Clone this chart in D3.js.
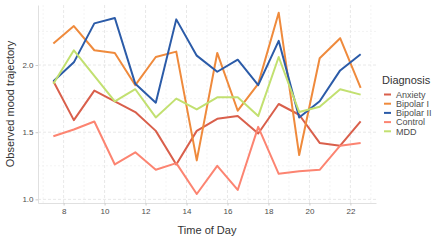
<!DOCTYPE html>
<html>
<head>
<meta charset="utf-8">
<script src="https://cdn.jsdelivr.net/npm/d3@7"></script>
<style>
  body { margin: 0; background: #fff; }
  text { font-family: "Liberation Sans", Arial, sans-serif; }
</style>
</head>
<body>
<svg id="chart"></svg>
<script>
const width = 436;
const height = 242;

const hours = [7.5, 8.5, 9.5, 10.5, 11.5, 12.5, 13.5, 14.5, 15.5, 16.5, 17.5, 18.5, 19.5, 20.5, 21.5, 22.5];
const diagnoses = ['Anxiety', 'Bipolar I', 'Bipolar II', 'Control', 'MDD'];
const colors = ['#d95f4b', '#ef8a3c', '#2b5ba8', '#fc8471', '#c2e070'];

const anxiety   = [1.88, 1.59, 1.81, 1.73, 1.65, 1.51, 1.26, 1.51, 1.60, 1.62, 1.49, 1.71, 1.63, 1.42, 1.40, 1.58];
const bipolar1  = [2.16, 2.29, 2.11, 2.09, 1.85, 2.06, 2.10, 1.29, 2.09, 1.66, 1.86, 2.39, 1.33, 2.05, 2.20, 1.83];
const bipolar2  = [1.88, 2.02, 2.31, 2.35, 1.86, 1.72, 2.34, 2.07, 1.95, 2.04, 1.85, 2.18, 1.61, 1.73, 1.96, 2.08];
const control   = [1.47, 1.52, 1.58, 1.26, 1.35, 1.22, 1.27, 1.04, 1.25, 1.07, 1.54, 1.19, 1.21, 1.22, 1.40, 1.42];
const mdd       = [1.86, 2.11, 1.92, 1.73, 1.82, 1.61, 1.75, 1.67, 1.76, 1.76, 1.62, 2.06, 1.65, 1.69, 1.82, 1.78];

const xTicks = [8, 10, 12, 14, 16, 18, 20, 22];
const yTicks = [1.0, 1.5, 2.0];

const series = [anxiety, bipolar1, bipolar2, control, mdd].map((vals, i) => ({
    name: diagnoses[i],
    color: colors[i],
    values: vals.map((v, j) => ({hour: hours[j], value: v}))
}));

const margin = {left: 38, right: 60, top: 5, bottom: 39};

const svg = d3.select('#chart')
    .attr('width', width)
    .attr('height', height);

const x = d3.scaleLinear().domain([6.75, 23.25]).range([margin.left, width - margin.right]);
const y = d3.scaleLinear().domain([0.973, 2.447]).range([height - margin.bottom, margin.top]);

// grid
const grid = svg.append('g');
const xMinor = d3.range(7, 24, 2);
const yMinor = [1.25, 1.75, 2.25];
grid.selectAll('.xminor').data(xMinor).enter().append('line')
    .attr('x1', d => x(d)).attr('x2', d => x(d))
    .attr('y1', y.range()[0]).attr('y2', y.range()[1])
    .attr('stroke', '#ececec').attr('stroke-width', 0.6).attr('stroke-dasharray', '2,2');
grid.selectAll('.yminor').data(yMinor).enter().append('line')
    .attr('x1', x.range()[0]).attr('x2', x.range()[1])
    .attr('y1', d => y(d)).attr('y2', d => y(d))
    .attr('stroke', '#ececec').attr('stroke-width', 0.6).attr('stroke-dasharray', '2,2');
grid.selectAll('.xmajor').data(xTicks).enter().append('line')
    .attr('x1', d => x(d)).attr('x2', d => x(d))
    .attr('y1', y.range()[0]).attr('y2', y.range()[1])
    .attr('stroke', '#e2e2e2').attr('stroke-width', 0.8).attr('stroke-dasharray', '3,2');
grid.selectAll('.ymajor').data(yTicks).enter().append('line')
    .attr('x1', x.range()[0]).attr('x2', x.range()[1])
    .attr('y1', d => y(d)).attr('y2', d => y(d))
    .attr('stroke', '#e2e2e2').attr('stroke-width', 0.8).attr('stroke-dasharray', '3,2');

// axes
const xAxis = svg.append('g')
    .attr('transform', `translate(0, ${height - margin.bottom})`)
    .call(d3.axisBottom(x).tickValues(xTicks).tickSize(2.5).tickPadding(3).tickFormat(d3.format('d')).tickSizeOuter(0));
const yAxis = svg.append('g')
    .attr('transform', `translate(${margin.left}, 0)`)
    .call(d3.axisLeft(y).tickValues(yTicks).tickSize(2.5).tickPadding(2).tickFormat(d3.format('.1f')).tickSizeOuter(0));

[xAxis, yAxis].forEach(a => {
    a.select('.domain').attr('stroke', '#dcdcdc').attr('stroke-width', 0.9);
    a.selectAll('.tick line').attr('stroke', '#cccccc');
    a.selectAll('.tick text').attr('fill', '#4d4d4d').style('font-size', '8px');
});

// lines
const line = d3.line().x(d => x(d.hour)).y(d => y(d.value));
svg.append('g').selectAll('path').data(series).enter().append('path')
    .attr('d', d => line(d.values))
    .attr('fill', 'none')
    .attr('stroke', d => d.color)
    .attr('stroke-width', 2)
    .attr('stroke-linejoin', 'round');

// titles
svg.append('text')
    .attr('x', (x.range()[0] + x.range()[1]) / 2)
    .attr('y', 234)
    .attr('text-anchor', 'middle')
    .attr('fill', '#333')
    .style('font-size', '11px')
    .text('Time of Day');

svg.append('text')
    .attr('transform', `translate(14, ${(y.range()[0] + y.range()[1]) / 2}) rotate(-90)`)
    .attr('text-anchor', 'middle')
    .attr('fill', '#333')
    .style('font-size', '11px')
    .text('Observed mood trajectory');

// legend
const legend = svg.append('g').attr('transform', 'translate(382, 0)');
legend.append('text')
    .attr('x', 0).attr('y', 84)
    .attr('fill', '#333')
    .style('font-size', '11px')
    .text('Diagnosis');
const items = legend.selectAll('.item').data(series).enter().append('g')
    .attr('transform', (d, i) => `translate(0, ${94.5 + i * 9.2})`);
items.append('line')
    .attr('x1', 2).attr('x2', 9)
    .attr('stroke', d => d.color).attr('stroke-width', 2);
items.append('text')
    .attr('x', 14).attr('y', 3.2)
    .attr('fill', '#4d4d4d')
    .style('font-size', '9px')
    .text(d => d.name);
</script>
</body>
</html>
